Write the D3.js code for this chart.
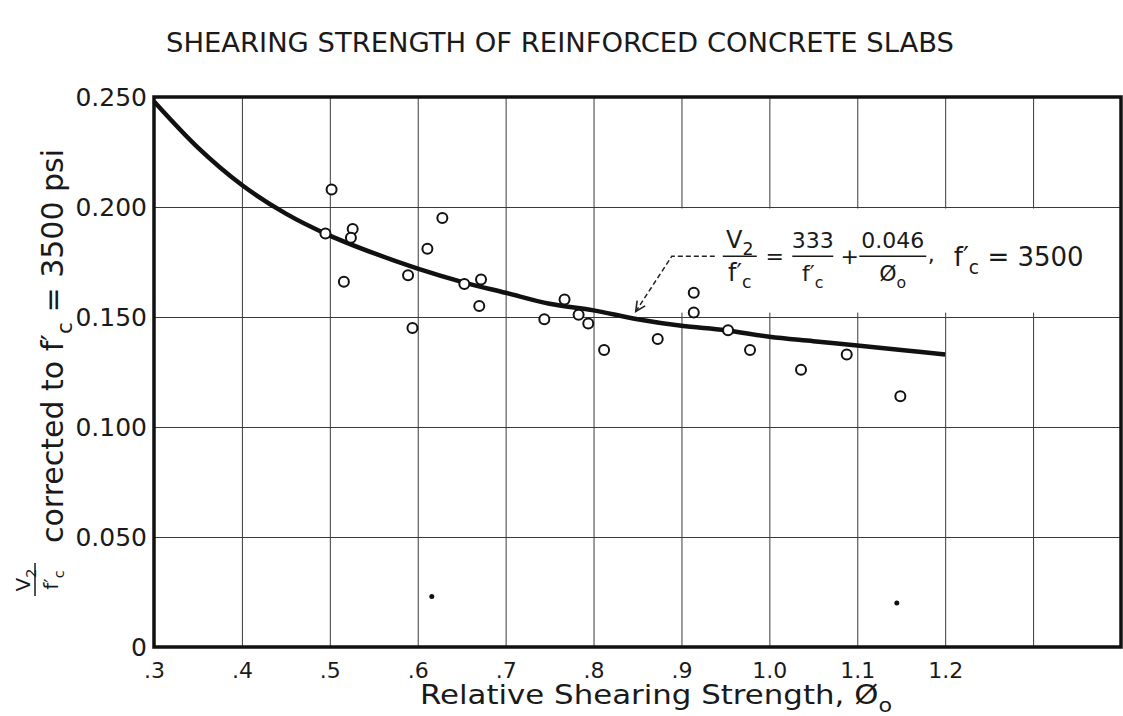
<!DOCTYPE html>
<html>
<head>
<meta charset="utf-8">
<script src="https://cdn.jsdelivr.net/npm/d3@7"></script>
<style>
	html, body { margin: 0; padding: 0; background: #fff; }
	svg { display: block; font-family: 'DejaVu Sans', sans-serif; }
	.grid line { stroke: #3a3a3a; stroke-width: 1; }
	.grid .domain { display: none; }
	.labels .domain { display: none; }
	.labels text { fill: #1a1a1a; font-family: 'DejaVu Sans', sans-serif; }
</style>
</head>
<body>
<svg width="1123" height="716"></svg>
<script>
// Test results: relative shearing strength vs V2/f'c
const phi = [0.502, 0.495, 0.526, 0.524, 0.516, 0.628, 0.611, 0.589, 0.594, 0.653, 0.672, 0.670, 0.767,
	0.744, 0.783, 0.794, 0.812, 0.873, 0.914, 0.914, 0.953, 0.978, 1.036, 1.088, 1.149];
const ratio = [0.208, 0.188, 0.190, 0.186, 0.166, 0.195, 0.181, 0.169, 0.145, 0.165, 0.167, 0.155, 0.158,
	0.149, 0.151, 0.147, 0.135, 0.140, 0.161, 0.152, 0.144, 0.135, 0.126, 0.133, 0.114];

// Two small solid dots near the bottom of the grid
const dotPhi = [0.616, 1.145];
const dotRatio = [0.023, 0.020];

// Design curve, read every 0.05
const curvePhi = [0.30, 0.35, 0.40, 0.45, 0.50, 0.55, 0.60, 0.65, 0.70, 0.75, 0.80, 0.85, 0.90, 0.95,
	1.00, 1.05, 1.10, 1.15, 1.20];
const curveRatio = [0.248, 0.227, 0.210, 0.197, 0.187, 0.179, 0.172, 0.166, 0.161, 0.156, 0.153, 0.149,
	0.146, 0.144, 0.141, 0.139, 0.137, 0.135, 0.133];

const xGrid = [0.3, 0.4, 0.5, 0.6, 0.7, 0.8, 0.9, 1.0, 1.1, 1.2, 1.3];
const xTicks = [0.3, 0.4, 0.5, 0.6, 0.7, 0.8, 0.9, 1.0, 1.1, 1.2];
const xTickLabels = ['.3', '.4', '.5', '.6', '.7', '.8', '.9', '1.0', '1.1', '1.2'];
const yTicks = [0, 0.05, 0.1, 0.15, 0.2, 0.25];
const yTickLabels = ['0', '0.050', '0.100', '0.150', '0.200', '0.250'];

const svg = d3.select('svg');
const width = 1123;
const height = 716;
const margin = { top: 97, right: 2, bottom: 69, left: 154 };
const innerWidth = width - margin.left - margin.right;
const innerHeight = height - margin.top - margin.bottom;

const x = d3.scaleLinear().domain([0.3, 1.4]).range([0, innerWidth]);
const y = d3.scaleLinear().domain([0, 0.25]).range([innerHeight, 0]);

// text with a subscript part, optionally followed by more text on the baseline
function addSub(text, base, sub, size, after) {
	text.append('tspan').text(base);
	text.append('tspan').attr('dy', size * 0.3).attr('font-size', size * 0.72).text(sub);
	if (after) text.append('tspan').attr('dy', -size * 0.3).text(after);
}

// Title
svg.append('text')
	.attr('x', 560)
	.attr('y', 52)
	.attr('text-anchor', 'middle')
	.attr('font-size', 26)
	.attr('fill', '#1a1a1a')
	.attr('textLength', 788)
	.attr('lengthAdjust', 'spacingAndGlyphs')
	.text('SHEARING STRENGTH OF REINFORCED CONCRETE SLABS');

const g = svg.append('g').attr('transform', `translate(${margin.left},${margin.top})`);

// Grid
g.append('g')
	.attr('class', 'grid')
	.call(d3.axisBottom(x).tickValues(xGrid).tickSize(innerHeight).tickFormat(''));
g.append('g')
	.attr('class', 'grid')
	.call(d3.axisLeft(y).tickValues(yTicks).tickSize(-innerWidth).tickFormat(''));

// Blank panel behind the equation
g.append('rect')
	.attr('x', x(0.855))
	.attr('y', y(0.2) + 1.5)
	.attr('width', innerWidth - x(0.855) - 2)
	.attr('height', y(0.152) - y(0.2) - 1.5)
	.attr('fill', '#fff');

// Tick labels
g.append('g')
	.attr('class', 'labels')
	.attr('transform', `translate(0,${innerHeight})`)
	.call(d3.axisBottom(x).tickValues(xTicks).tickSize(0).tickPadding(15)
		.tickFormat((d, i) => xTickLabels[i]))
	.selectAll('text').attr('font-size', 22);
g.append('g')
	.attr('class', 'labels')
	.call(d3.axisLeft(y).tickValues(yTicks).tickSize(0).tickPadding(7)
		.tickFormat((d, i) => yTickLabels[i]))
	.selectAll('text').attr('font-size', 25);

// Design curve
const line = d3.line()
	.x((d, i) => x(curvePhi[i]))
	.y((d) => y(d))
	.curve(d3.curveMonotoneX);
g.append('path')
	.datum(curveRatio)
	.attr('d', line)
	.attr('fill', 'none')
	.attr('stroke', '#111')
	.attr('stroke-width', 4.5);

// Test points
g.selectAll('circle.test')
	.data(phi)
	.enter()
	.append('circle')
	.attr('class', 'test')
	.attr('cx', (d) => x(d))
	.attr('cy', (d, i) => y(ratio[i]))
	.attr('r', 5)
	.attr('fill', '#fff')
	.attr('stroke', '#111')
	.attr('stroke-width', 2);

g.selectAll('circle.dot')
	.data(dotPhi)
	.enter()
	.append('circle')
	.attr('class', 'dot')
	.attr('cx', (d) => x(d))
	.attr('cy', (d, i) => y(dotRatio[i]))
	.attr('r', 2.5)
	.attr('fill', '#111');

// Frame
g.append('rect')
	.attr('width', innerWidth)
	.attr('height', innerHeight)
	.attr('fill', 'none')
	.attr('stroke', '#111')
	.attr('stroke-width', 3.5);

// Equation with dashed leader
const kx = x(0.889);
const ky = y(0.1776);
const tx = x(0.848);
const ty = y(0.1525);
const ann = g.append('g').attr('fill', '#1a1a1a');
ann.append('path')
	.attr('d', `M${tx},${ty}L${kx},${ky}H${kx + 43}`)
	.attr('fill', 'none')
	.attr('stroke', '#222')
	.attr('stroke-width', 1.5)
	.attr('stroke-dasharray', '5,3');
const ang = Math.atan2(ky - ty, kx - tx);
const head = [ang - 0.45, ang + 0.45].map((a) => [tx + 11 * Math.cos(a), ty + 11 * Math.sin(a)]);
ann.append('path')
	.attr('d', `M${head[0]}L${tx},${ty}L${head[1]}`)
	.attr('fill', 'none')
	.attr('stroke', '#222')
	.attr('stroke-width', 1.6);

function fraction(cx, w, size, top, bottom) {
	const t = ann.append('text').attr('x', cx).attr('y', ky - 8).attr('text-anchor', 'middle').attr('font-size', size);
	top(t);
	ann.append('line')
		.attr('x1', cx - w / 2).attr('x2', cx + w / 2)
		.attr('y1', ky).attr('y2', ky)
		.attr('stroke', '#1a1a1a').attr('stroke-width', 1.5);
	const b = ann.append('text').attr('x', cx).attr('y', ky + 25).attr('text-anchor', 'middle').attr('font-size', size);
	bottom(b);
}
fraction(kx + 68, 34, 24, (t) => addSub(t, 'V', '2', 24), (t) => addSub(t, 'f′', 'c', 24));
ann.append('text').attr('x', kx + 103).attr('y', ky + 8).attr('text-anchor', 'middle').attr('font-size', 22).text('=');
fraction(kx + 141, 41, 22, (t) => t.text('333'), (t) => addSub(t, 'f′', 'c', 22));
ann.append('text').attr('x', kx + 178).attr('y', ky + 8).attr('text-anchor', 'middle').attr('font-size', 22).text('+');
fraction(kx + 221, 67, 22, (t) => t.text('0.046'), (t) => addSub(t, 'Ø', 'o', 22));
ann.append('text').attr('x', kx + 256).attr('y', ky + 6).attr('font-size', 22).text(',');
const fcText = ann.append('text').attr('x', kx + 282).attr('y', ky + 10).attr('font-size', 26);
addSub(fcText, 'f′', 'c', 26, ' = 3500');

// Axis titles
const xt = svg.append('text')
	.attr('x', 420)
	.attr('y', 704)
	.attr('font-size', 27)
	.attr('fill', '#1a1a1a')
	.attr('textLength', 472)
	.attr('lengthAdjust', 'spacingAndGlyphs');
addSub(xt, 'Relative Shearing Strength, Ø', 'o', 27);

const yt = svg.append('g').attr('transform', 'translate(63,600) rotate(-90)').attr('fill', '#1a1a1a');
const num = yt.append('text').attr('x', 20).attr('y', -33).attr('text-anchor', 'middle').attr('font-size', 20);
addSub(num, 'V', '2', 20);
yt.append('line')
	.attr('x1', 4).attr('x2', 37)
	.attr('y1', -28).attr('y2', -28)
	.attr('stroke', '#1a1a1a').attr('stroke-width', 1.5);
const den = yt.append('text').attr('x', 20).attr('y', -5).attr('text-anchor', 'middle').attr('font-size', 20);
addSub(den, 'f′', 'c', 20);
const ylab = yt.append('text').attr('x', 57).attr('y', 0).attr('font-size', 30);
addSub(ylab, 'corrected to f′', 'c', 30, ' = 3500 psi');
</script>
</body>
</html>
